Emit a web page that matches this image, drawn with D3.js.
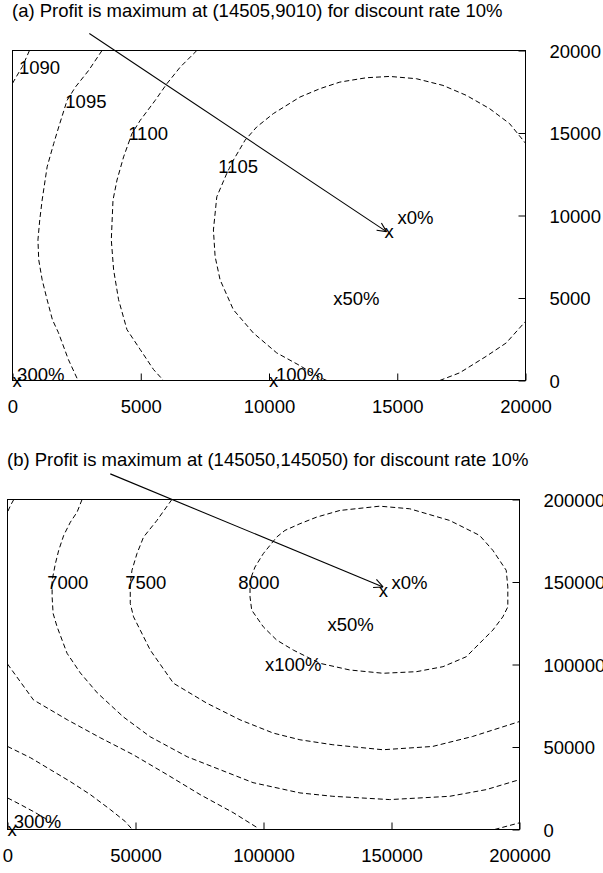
<!DOCTYPE html>
<html><head><meta charset="utf-8">
<script src="https://cdn.jsdelivr.net/npm/d3@7"></script>
<style>
body{margin:0;background:#fff}
svg text{font-family:"Liberation Sans",Arial,Helvetica,sans-serif;font-size:18.5px;fill:#000}
</style>
</head><body>
<svg id="chart" width="603" height="873"></svg>
<script>
// ---------- Panel (a) data ----------
const titleA = "(a) Profit is maximum at (14505,9010) for discount rate 10%";
const xTicksA = [0, 5000, 10000, 15000, 20000];
const yTicksA = [0, 5000, 10000, 15000, 20000];
const contourA1090 = [[661,20000],[389,19033],[156,18429],[0,18006]];
const contourA1095 = [[3490,20000],[2969,18792],[2451,17782],[2128,16979],[1802,15366],[1607,14363],[1350,12949],[1156,10937],[1062,9728],[992,8520],[1023,7311],[1156,6103],[1350,4894],[1556,3686],[1790,2900],[2179,1269],[2556,0]];
const contourA1100 = [[7187,20000],[6537,18991],[6019,17988],[5564,16979],[4981,15770],[4658,14967],[4331,13553],[4074,12145],[3918,10937],[3852,8520],[3942,6707],[4136,4894],[4463,3082],[4981,1873],[5498,665],[5887,0]];
const contourA1105 = [[12257,0],[11985,181],[11129,967],[10300,1674],[9389,2882],[8611,4290],[8093,6103],[7899,7511],[7833,9124],[7965,11136],[8354,12550],[8611,13353],[9066,14562],[9521,15366],[10168,16175],[11206,17178],[11985,17686],[12763,18085],[13802,18350],[14708,18429],[15747,18290],[16782,17885],[17693,17281],[18599,16477],[19378,15571],[20000,14381]];
const contourA1105b = [[16654,0],[17432,465],[18471,1468],[19249,2278],[20000,3583]];
const contourLabelsA = [
  {text:"1090", x:250,  y:19000},
  {text:"1095", x:2060, y:16940},
  {text:"1100", x:4510, y:14950},
  {text:"1105", x:8020, y:12950}
];
const pointLabelsA = [
  {text:"x0%",  x:15010, y:9870},
  {text:"x50%", x:12500, y:5000},
  {text:"100%", x:10270, y:360},
  {text:"300%", x:180,   y:345}
];
const markersA = [[14505,9010],[10000,0],[0,0]];
const arrowA = [[2996,21027],[14580,9021]];

// ---------- Panel (b) data ----------
const titleB = "(b) Profit is maximum at (145050,145050) for discount rate 10%";
const xTicksB = [0, 50000, 100000, 150000, 200000];
const yTicksB = [0, 50000, 100000, 150000, 200000];
const contourB5500 = [[0,19154],[5068,15106],[10136,10876],[14815,6647],[17544,3625]];
const contourB6000 = [[0,50332],[8967,43505],[16764,36254],[24561,29003],[32358,21148],[40155,12085],[46003,4834],[48733,0]];
const contourB6500 = [[0,100302],[10136,78550],[23392,66465],[36257,55589],[49122,45317],[62378,33233],[75243,21148],[88108,10272],[97465,1208],[98245,0]];
const contourB6500top = [[2456,200000],[1170,196375],[0,192327]];
const contourB6500right = [[190252,0],[200000,4048]];
const contourB7000 = [[29123,200000],[27173,192327],[24561,186284],[21949,178248],[20000,169184],[18713,161148],[17427,151058],[17427,140967],[17817,130937],[19376,122840],[21325,114804],[23275,106767],[28460,94864],[35087,82780],[45224,68278],[55750,56193],[70175,44109],[83040,36254],[95906,28399],[114229,22175],[127094,20121],[149316,18127],[172708,20121],[187016,24169],[200000,30212]];
const contourB7500 = [[64210,200000],[58362,187311],[53138,177221],[50565,167190],[48616,157100],[47953,149064],[47953,136979],[49239,128882],[51851,120846],[55750,108761],[64834,88641],[77855,76556],[90837,66465],[103820,58429],[114229,54381],[127094,51360],[146587,48338],[166080,50332],[181675,56375],[200000,65438]];
const contourB8000 = [[129823,193354],[120740,189305],[114229,185317],[108381,181269],[105145,177221],[99921,167190],[96685,159094],[94736,151058],[94736,140967],[95399,132931],[99921,122840],[105145,114804],[111617,108761],[122026,100725],[133722,96677],[146704,94683],[159726,95650],[170096,98671],[179218,104713],[185690,114804],[189589,120846],[193488,128882],[195437,134925],[195437,147010],[194813,157100],[189589,169184],[184404,178248],[172708,187311],[157114,194381],[145418,195956],[129823,193354]];
const contourLabelsB = [
  {text:"7000", x:15480, y:150000},
  {text:"7500", x:46000, y:150000},
  {text:"8000", x:90180, y:150000}
];
const pointLabelsB = [
  {text:"x0%",   x:150000, y:150000},
  {text:"x50%",  x:125000, y:124500},
  {text:"x100%", x:100580, y:100300},
  {text:"300%",  x:2460,   y:5015}
];
const markersB = [[145050,145050],[0,0]];
const arrowB = [[40156,215530],[146700,147010]];

// ---------- drawing ----------
const svg = d3.select("#chart");

function drawPanel(cfg) {
  const g = svg.append("g");
  const x = d3.scaleLinear().domain([0, cfg.max]).range([cfg.left, cfg.right]);
  const y = d3.scaleLinear().domain([0, cfg.max]).range([cfg.bottom, cfg.top]);

  g.append("text").attr("x", cfg.left - 0.5).attr("y", cfg.titleY).text(cfg.title);

  const clipId = "clip" + cfg.id;
  g.append("clipPath").attr("id", clipId).append("rect")
    .attr("x", cfg.left).attr("y", cfg.top)
    .attr("width", cfg.right - cfg.left).attr("height", cfg.bottom - cfg.top);

  const line = d3.line().x(d => x(d[0])).y(d => y(d[1]));
  const cg = g.append("g").attr("clip-path", `url(#${clipId})`);
  cfg.contours.forEach(c => {
    cg.append("path").attr("d", line(c)).attr("fill", "none")
      .attr("stroke", "#000").attr("stroke-width", 1).attr("stroke-dasharray", "5,3");
  });

  // axes (ticks inward, bottom and right only)
  const ax = g.append("g").attr("transform", `translate(0,${cfg.bottom})`)
    .call(d3.axisBottom(x).tickValues(cfg.xTicks).tickSize(-7).tickPadding(19).tickFormat(d3.format("d")));
  const ay = g.append("g").attr("transform", `translate(${cfg.right},0)`)
    .call(d3.axisRight(y).tickValues(cfg.yTicks).tickSize(-7).tickPadding(24).tickFormat(d3.format("d")));
  [ax, ay].forEach(a => {
    a.attr("font-size", null).attr("font-family", null);
    a.select(".domain").remove();
    a.selectAll("line").attr("stroke", "#000");
  });
  ay.selectAll("text").attr("dy", "0.36em");

  // frame
  g.append("rect").attr("x", cfg.left).attr("y", cfg.top)
    .attr("width", cfg.right - cfg.left).attr("height", cfg.bottom - cfg.top)
    .attr("fill", "none").attr("stroke", "#000").attr("stroke-width", 1);

  // labels
  cfg.contourLabels.concat(cfg.pointLabels).forEach(l => {
    g.append("text").attr("x", x(l.x)).attr("y", y(l.y)).attr("dy", "0.355em").text(l.text);
  });
  cfg.markers.forEach(m => {
    g.append("text").attr("x", x(m[0])).attr("y", y(m[1])).attr("dy", "0.355em").text("x");
  });

  // arrow
  const [s, e] = cfg.arrow;
  const x1 = x(s[0]), y1 = y(s[1]), x2 = x(e[0]), y2 = y(e[1]);
  g.append("line").attr("x1", x1).attr("y1", y1).attr("x2", x2).attr("y2", y2)
    .attr("stroke", "#000").attr("stroke-width", 1.1);
  const ang = Math.atan2(y2 - y1, x2 - x1), L = 10, h = 0.45;
  [ang + Math.PI - h, ang + Math.PI + h].forEach(a => {
    g.append("line").attr("x1", x2).attr("y1", y2)
      .attr("x2", x2 + L * Math.cos(a)).attr("y2", y2 + L * Math.sin(a))
      .attr("stroke", "#000").attr("stroke-width", 1.1);
  });
}

drawPanel({
  id: "a", max: 20000, left: 12.5, right: 525.5, top: 50.5, bottom: 380.5, titleY: 17,
  title: titleA, xTicks: xTicksA, yTicks: yTicksA,
  contours: [contourA1090, contourA1095, contourA1100, contourA1105, contourA1105b],
  contourLabels: contourLabelsA, pointLabels: pointLabelsA, markers: markersA, arrow: arrowA
});
drawPanel({
  id: "b", max: 200000, left: 7.5, right: 519.5, top: 499.5, bottom: 829.5, titleY: 465.5,
  title: titleB, xTicks: xTicksB, yTicks: yTicksB,
  contours: [contourB5500, contourB6000, contourB6500, contourB6500top, contourB6500right, contourB7000, contourB7500, contourB8000],
  contourLabels: contourLabelsB, pointLabels: pointLabelsB, markers: markersB, arrow: arrowB
});
</script>
</body></html>
